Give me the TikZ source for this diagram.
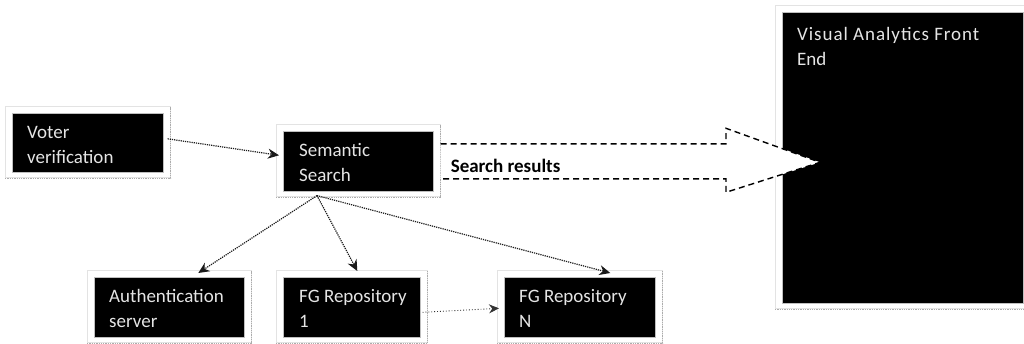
\documentclass[tikz,border=0pt]{standalone}
\usepackage{fontspec}
\setmainfont{Carlito}
\usetikzlibrary{calc,arrows.meta}
\begin{document}
\begin{tikzpicture}[x=1pt,y=-1pt,
  box/.style={fill=black, draw=gray!50, line width=0.6pt, inner sep=0pt, anchor=north west},
  txt/.style={text=white!90!black, font=\fontsize{19}{25}\selectfont, align=left, inner sep=0pt, anchor=north west},
  frame/.style={draw=gray!22, line width=1pt},
  shade/.style={draw=gray!65, line width=1.3pt, densely dotted},
  conn/.style={draw=black!90, line width=1.2pt, densely dotted, -{Stealth[length=11pt,width=10pt]}},
  thinconn/.style={draw=black!80, line width=0.9pt, dotted, -{Stealth[length=10pt,width=9pt]}},
  bigarrow/.style={draw=black, line width=1.4pt, dash pattern=on 6pt off 4pt},
]
\useasboundingbox (0,0) rectangle (1024,343);

% boxes
\node[box, minimum width=151pt, minimum height=59pt] (voter) at (12,113) {};
\node[box, minimum width=150pt, minimum height=60pt] (sem) at (283,131) {};
\node[box, minimum width=150pt, minimum height=60pt] (auth) at (94,277) {};
\node[box, minimum width=137pt, minimum height=60pt] (rep1) at (283,277) {};
\node[box, minimum width=151pt, minimum height=60pt] (repN) at (504,277) {};
\node[box, minimum width=241pt, minimum height=291pt] (va) at (782,12) {};

% frames
\foreach \n in {voter,sem,auth,rep1,repN,va} {
  \draw[frame] ($(\n.north west)+(-7pt,7pt)$) rectangle ($(\n.south east)+(7pt,-5pt)$);
  \draw[shade] ($(\n.south west)+(-7pt,-6pt)$) -- ($(\n.south east)+(7pt,-6pt)$) -- ($(\n.north east)+(7pt,6pt)$);
}

% texts
\node[txt] (voterT) at ($(voter.north west)+(15pt,-7.5pt)$) {\strut Voter\\\strut verification};
\node[txt] (semT) at ($(sem.north west)+(16pt,-7.5pt)$) {\strut Semantic\\\strut Search};
\node[txt] (authT) at ($(auth.north west)+(15pt,-7.5pt)$) {\strut Authentication\\\strut server};
\node[txt] (rep1T) at ($(rep1.north west)+(16pt,-7.5pt)$) {\strut FG Repository\\\strut 1};
\node[txt] (repNT) at ($(repN.north west)+(15pt,-7.5pt)$) {\strut FG Repository\\\strut N};
\node[txt] (vaT) at ($(va.north west)+(15pt,-10.5pt)$) {\addfontfeatures{LetterSpace=5}\strut Visual Analytics Front\\\strut End};

% connectors
\draw[conn] ($(voter.east)+(4pt,4pt)$) -- ($(sem.west)+(-4pt,6pt)$);
\coordinate (c0) at ($(sem.south west)+(34pt,-4pt)$);
\draw[conn] (c0) -- ($(auth.north)+(29pt,4pt)$);
\draw[conn] (c0) -- ($(rep1.north)+(5.5pt,6pt)$);
\draw[conn] (c0) -- ($(repN.north)+(30.5pt,4pt)$);
\draw[thinconn] ($(rep1.east)+(2pt,-5pt)$) -- ($(repN.west)+(-5pt,-1pt)$);

% big dashed arrow
\coordinate (s) at ($(sem.east)+(7pt,0pt)$);
\coordinate (tip) at ($(va.west |- sem.east)+(38pt,-1pt)$);
\coordinate (h) at ($(tip)+(-94pt,0pt)$);
\coordinate (A) at ($(s)+(0pt,17.5pt)$);
\coordinate (B) at ($(h |- s)+(0pt,17.5pt)$);
\coordinate (C) at ($(h |- s)+(0pt,33pt)$);
\coordinate (D) at ($(h |- s)+(0pt,-31pt)$);
\coordinate (E) at ($(h |- s)+(0pt,-17.5pt)$);
\coordinate (F) at ($(s)+(0pt,-17.5pt)$);
\fill[white] (A) -- (B) -- (C) -- (tip) -- (D) -- (E) -- (F) -- cycle;
\draw[bigarrow] (A) -- (B) -- (C) -- (tip) -- (D) -- (E) -- (F);
\node[font=\bfseries\fontsize{19}{22}\selectfont, anchor=base west, inner sep=0pt] (lbl) at ($(s)+(10pt,-11pt)$) {Search results};
\end{tikzpicture}
\end{document}
